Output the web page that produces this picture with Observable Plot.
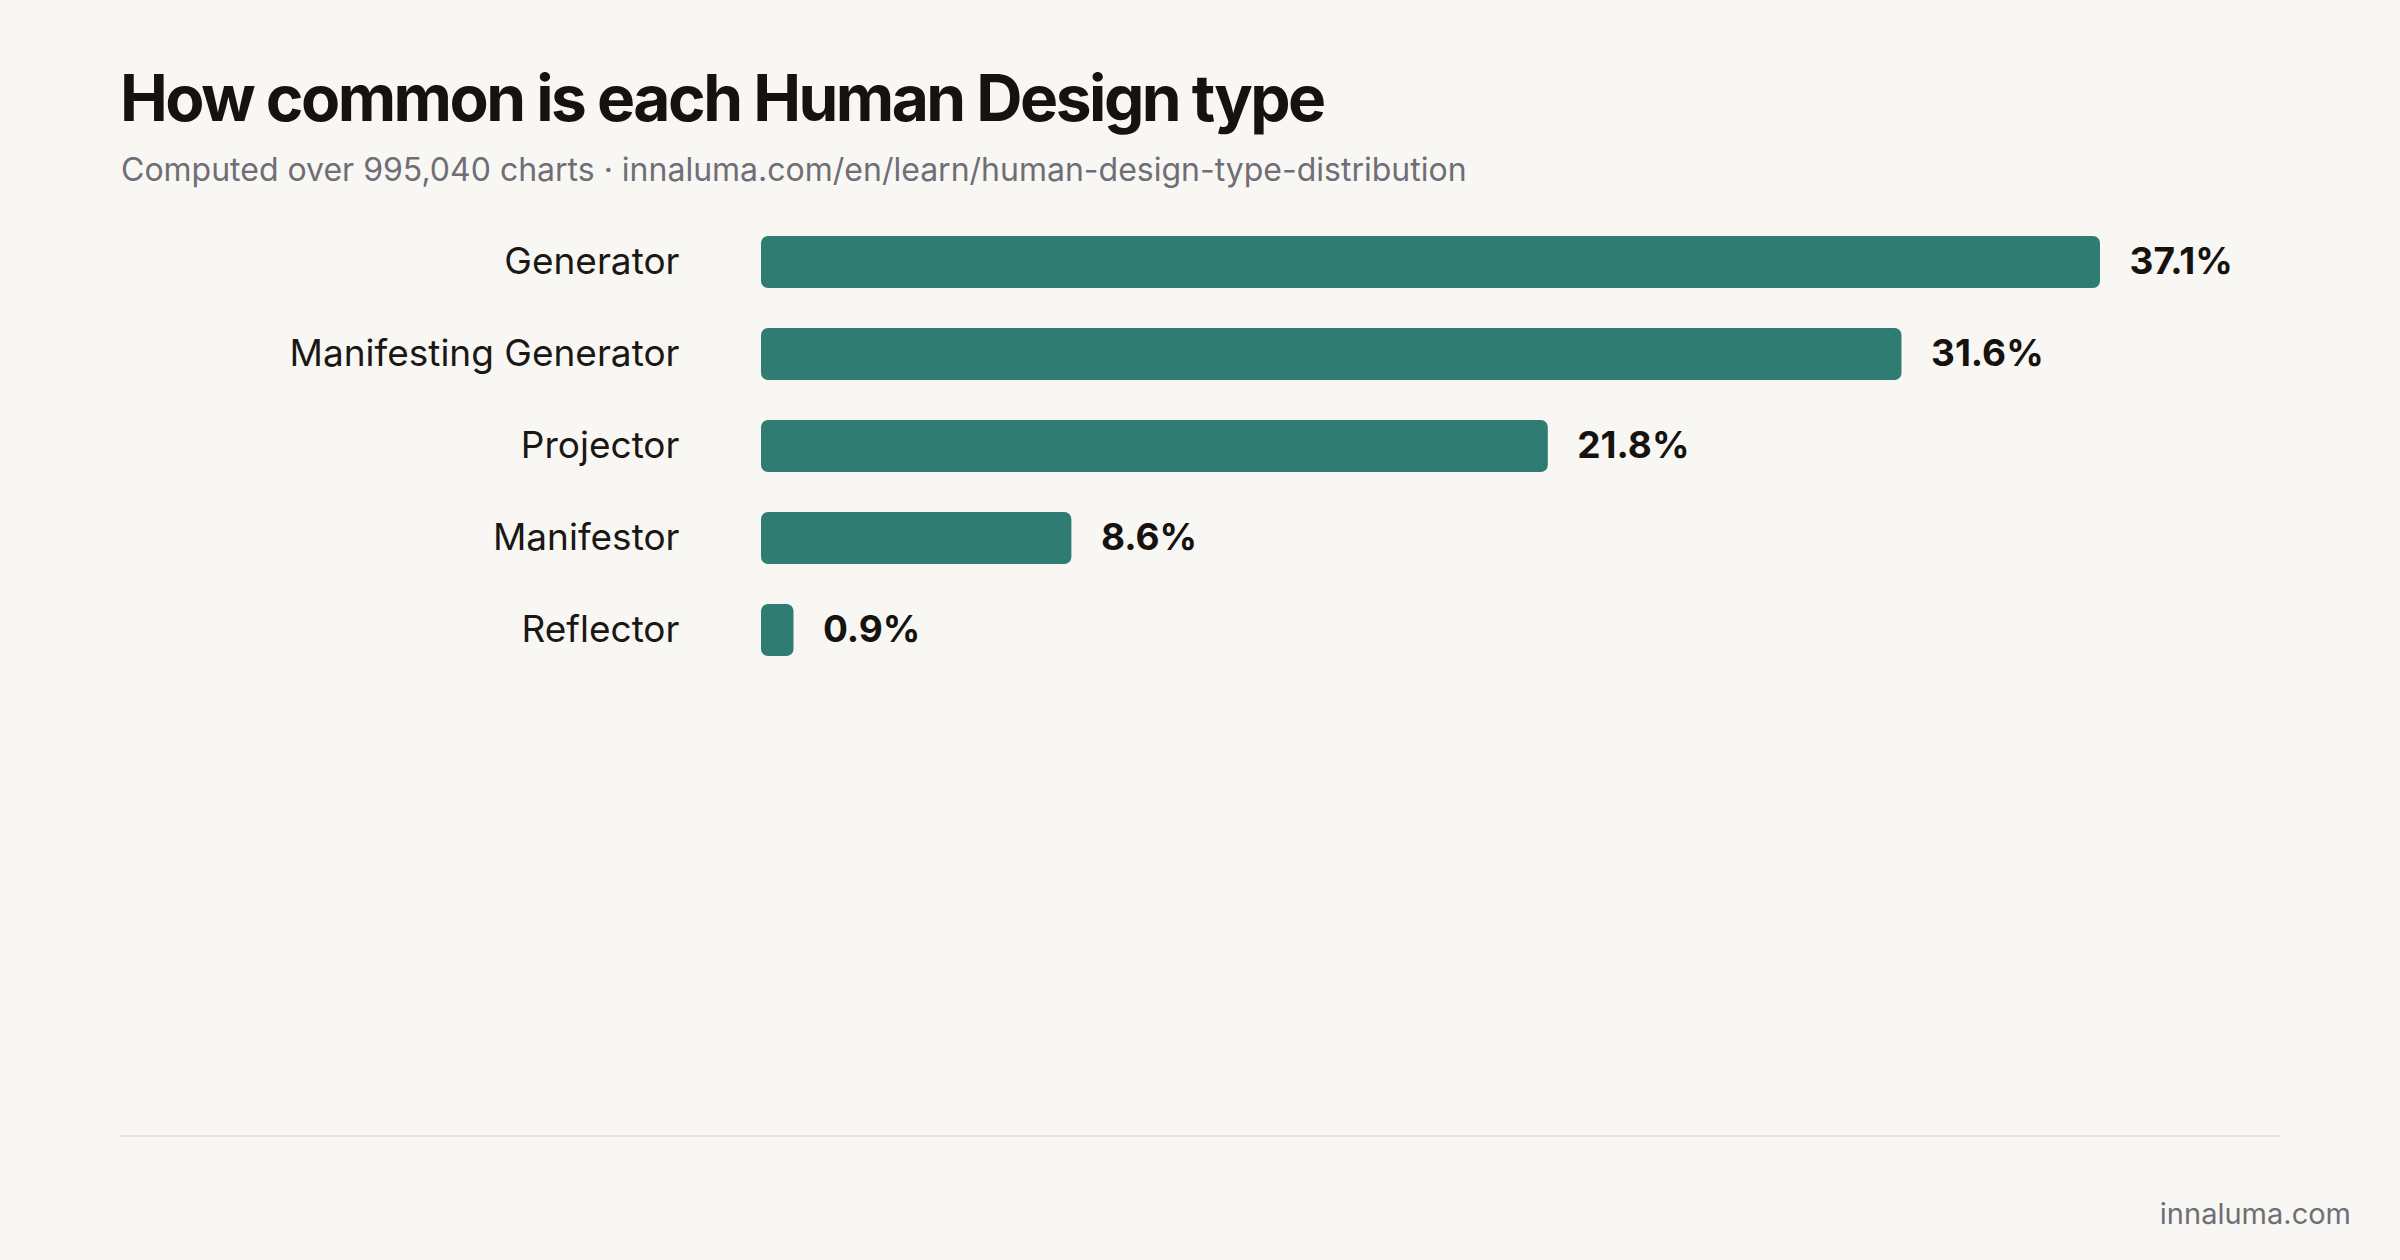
<!DOCTYPE html>
<html>
<head>
<meta charset="utf-8">
<script src="https://cdn.jsdelivr.net/npm/d3@7"></script>
<script src="https://cdn.jsdelivr.net/npm/@observablehq/plot@0.6"></script>
<style>
  html, body { margin: 0; padding: 0; background: #f8f7f3; }
  #page { position: relative; width: 2400px; height: 1260px; background: #f8f7f3; font-family: Inter, "Noto Sans", sans-serif; overflow: hidden; }
  #title { position: absolute; left: 120px; top: 66px; font-size: 64px; line-height: 1; font-weight: 700; color: #15120f; letter-spacing: -2.5px; white-space: nowrap; }
  #subtitle { position: absolute; left: 121px; top: 154px; font-size: 32px; line-height: 1; color: #6f6e76; white-space: nowrap; }
  #chart { position: absolute; left: 0; top: 190px; }
  #divider { position: absolute; left: 121px; top: 1135px; width: 2159px; height: 2px; background: #e7e2db; }
  #footer { position: absolute; right: 49px; top: 1199px; font-size: 29px; line-height: 1; color: #6f6e76; white-space: nowrap; }
</style>
</head>
<body>
<div id="page">
  <div id="title"></div>
  <div id="subtitle"></div>
  <div id="chart"></div>
  <div id="divider"></div>
  <div id="footer"></div>
</div>
<script>
const titleText = "How common is each Human Design type";
const subtitleText = "Computed over 995,040 charts · innaluma.com/en/learn/human-design-type-distribution";
const footerText = "innaluma.com";

const types = ["Generator", "Manifesting Generator", "Projector", "Manifestor", "Reflector"];
const shares = [37.1, 31.6, 21.8, 8.6, 0.9];

const data = types.map((t, i) => ({type: t, share: shares[i]}));

document.getElementById("title").textContent = titleText;
document.getElementById("subtitle").textContent = subtitleText;
document.getElementById("footer").textContent = footerText;

const chart = Plot.plot({
  width: 2400,
  height: 500,
  marginLeft: 761,
  marginRight: 300,
  marginTop: 26,
  marginBottom: 14,
  style: {background: "transparent", fontFamily: "Inter, 'Noto Sans', sans-serif", color: "#1a1714"},
  x: {domain: [0, 37.1], axis: null},
  y: {domain: types, paddingInner: 0.435, paddingOuter: 0.2175, label: null},
  marks: [
    Plot.barX(data, {y: "type", x: "share", fill: "#2f7c72", rx: 7}),
    Plot.axisY({tickSize: 0, tickPadding: 82, fontSize: 37, label: null, fill: "#1a1714"}),
    Plot.text(data, {
      y: "type", x: "share", text: d => `${d.share}%`,
      dx: 29, textAnchor: "start", fontSize: 37, fontWeight: 700, fill: "#15120f"
    })
  ]
});
document.getElementById("chart").appendChild(chart);
</script>
</body>
</html>
